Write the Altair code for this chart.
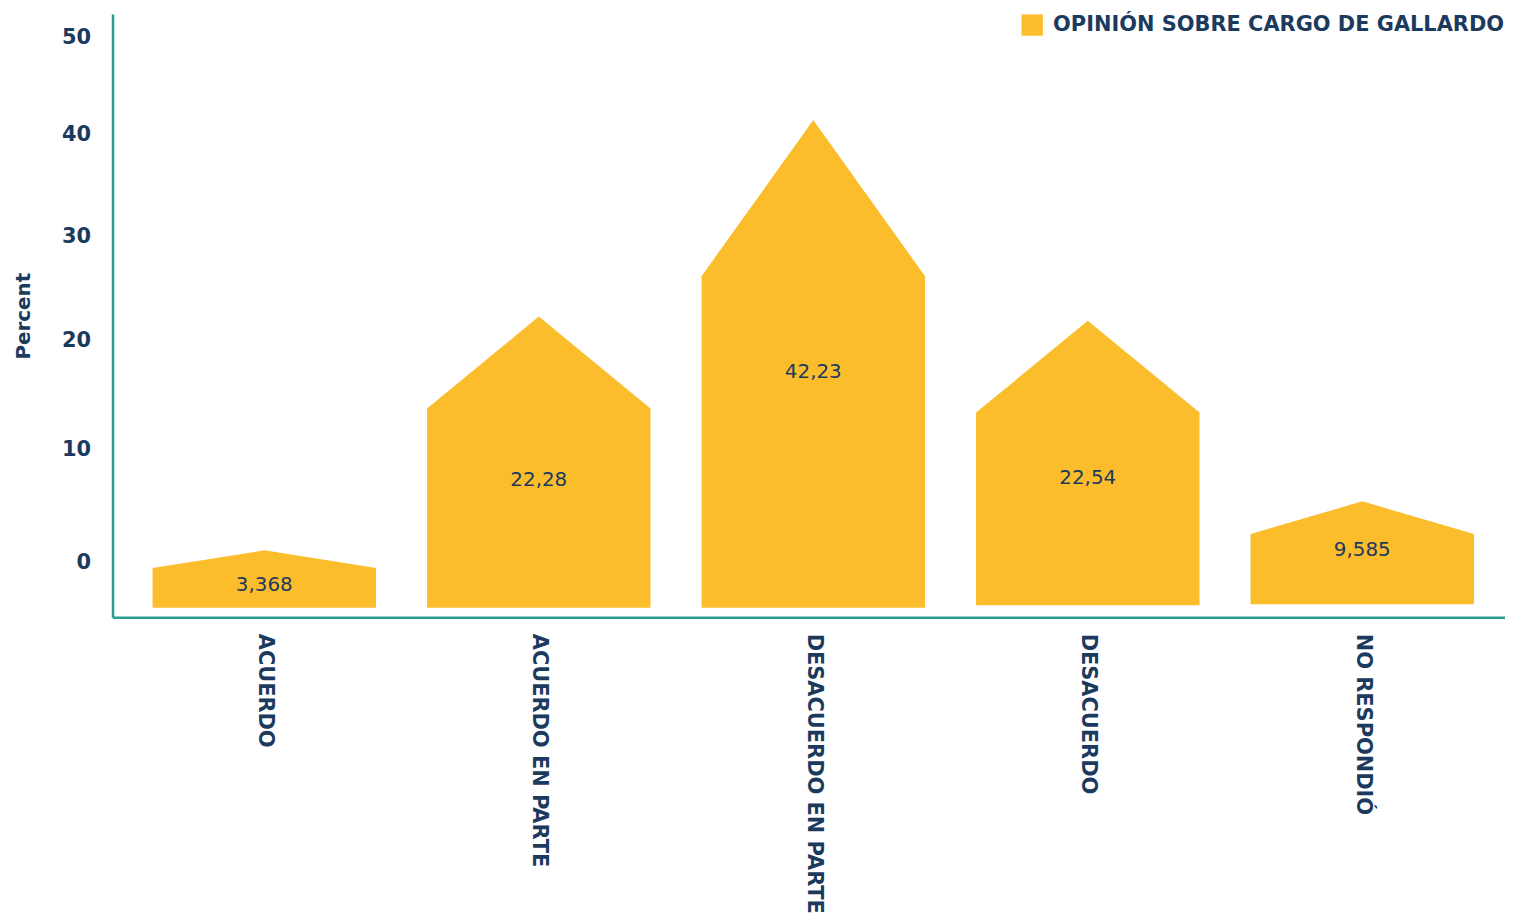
import json
import altair as alt
import pandas as pd

# ---- data ----
categories = ["ACUERDO", "ACUERDO EN PARTE", "DESACUERDO EN PARTE", "DESACUERDO", "NO RESPONDIÓ"]
percent = [3.368, 22.28, 42.23, 22.54, 9.585]
value_labels = ["3,368", "22,28", "42,23", "22,54", "9,585"]
# house-shaped bars: peak, shoulder and base heights
roof_peak = [1.1, 22.3, 41.5, 21.9, 5.4]
roof_shoulder = [-0.43, 13.75, 26.14, 13.38, 2.52]
bar_base = [-3.9, -3.9, -3.9, -3.7, -3.6]
series_name = "OPINIÓN SOBRE CARGO DE GALLARDO"
y_ticks = [0, 10, 20, 30, 40, 50]

YELLOW = "#FBBD2B"
NAVY = "#1B3A5E"
TEAL = "#2A9C95"
FONT = "DejaVu Sans"
HALF = 0.407  # half bar width in band units

rows = []
for i, c in enumerate(categories):
    for dx, yv in ((-HALF, roof_shoulder[i]), (0.0, roof_peak[i]), (HALF, roof_shoulder[i])):
        rows.append({"cat": c, "x": i + dx, "y": yv, "y0": bar_base[i], "series": series_name})
shape_df = pd.DataFrame(rows)

label_df = pd.DataFrame({
    "idx": list(range(len(categories))),
    "value": percent,
    "label": value_labels,
})

x_scale = alt.Scale(domain=[-0.553, 4.52], nice=False, zero=False)
y_scale = alt.Scale(type="symlog", constant=250, domain=[-4.75, 52.4], nice=False, zero=False)

label_expr = json.dumps(categories) + "[datum.value]"

houses = alt.Chart(shape_df).mark_area(interpolate="linear").encode(
    x=alt.X("x:Q", scale=x_scale, axis=alt.Axis(
        values=list(range(len(categories))), labelExpr=label_expr, title=None,
        labelAngle=90, labelAlign="left", labelBaseline="middle", labelPadding=16,
        labelFont=FONT, labelFontSize=21, labelFontWeight="bold", labelColor=NAVY,
        labelLimit=500, labelOverlap=False, labelFlush=False,
        ticks=False, grid=False, domainColor=TEAL, domainWidth=2.5)),
    y=alt.Y("y:Q", scale=y_scale, axis=alt.Axis(
        values=y_ticks, format="d", title="Percent", labelPadding=22,
        labelFont=FONT, labelFontSize=21, labelFontWeight="bold", labelColor=NAVY,
        titleFont=FONT, titleFontSize=20, titleFontWeight="bold", titleColor=NAVY,
        titlePadding=28, ticks=False, grid=False, domainColor=TEAL, domainWidth=2.5)),
    y2="y0:Q",
    detail="cat:N",
    color=alt.Color("series:N", scale=alt.Scale(range=[YELLOW]), legend=alt.Legend(
        title=None, orient="top-right", offset=0, padding=0, symbolType="square",
        symbolSize=460, symbolStrokeWidth=0, labelOffset=10,
        labelFont=FONT, labelFontSize=21, labelFontWeight="bold", labelColor=NAVY,
        labelLimit=600)),
)

texts = alt.Chart(label_df).transform_calculate(
    ly="datum.value * 0.49 - 3.6"
).mark_text(font=FONT, fontSize=20, color=NAVY, align="center", baseline="middle").encode(
    x=alt.X("idx:Q", scale=x_scale),
    y=alt.Y("ly:Q", scale=y_scale),
    text="label:N",
)

chart = alt.layer(houses, texts).properties(
    width=1399, height=606,
    padding={"left": 5, "top": 4, "right": 0, "bottom": 5},
).configure_view(stroke=None)

chart.save("out.html", embed_options={"renderer": "svg", "actions": False})
